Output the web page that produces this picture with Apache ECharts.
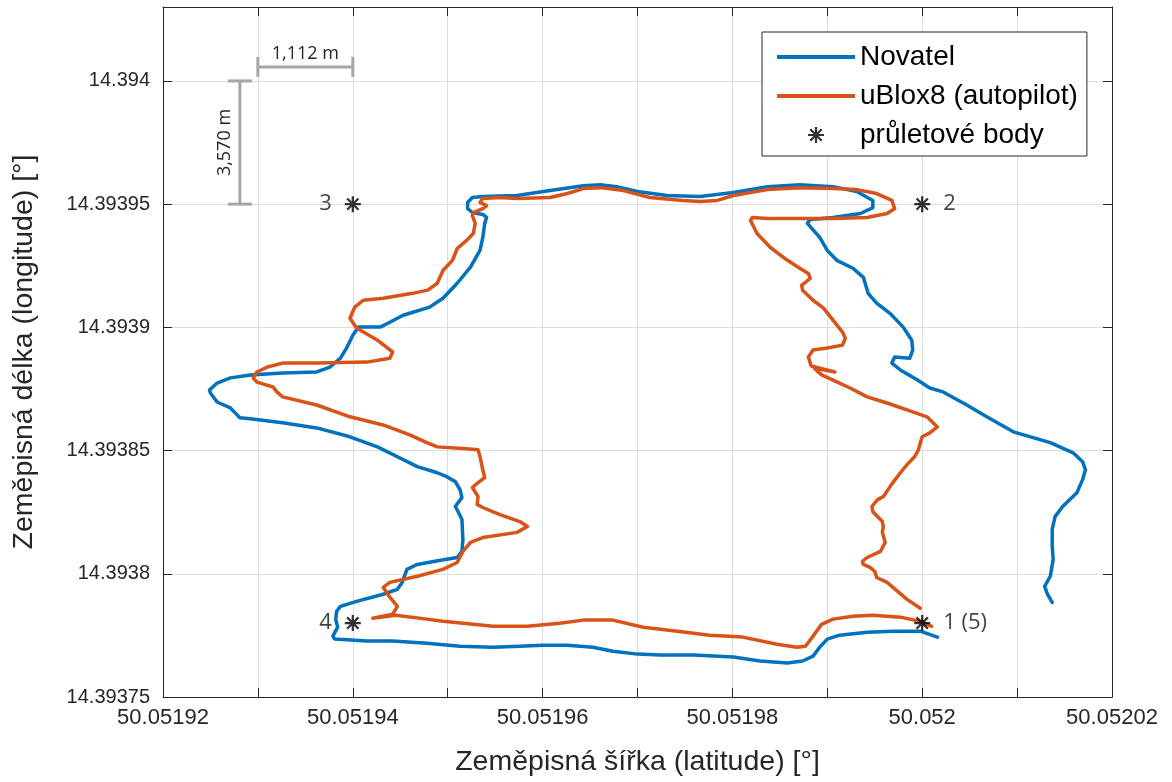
<!DOCTYPE html>
<html>
<head>
<meta charset="utf-8">
<title>Novatel vs uBlox8</title>
<script src="https://cdn.jsdelivr.net/npm/echarts@6.0.0/dist/echarts.min.js"></script>
<style>
	html, body { margin: 0; padding: 0; background: #fff; }
	#container { width: 1172px; height: 782px; }
</style>
</head>
<body>
<div id="container"></div>
<script>
// Novatel trajectory (latitude / longitude in degrees)
var novatelLat = [
	50.0520137, 50.0520132, 50.0520129, 50.0520135, 50.0520138, 50.0520137, 50.0520137, 50.0520140, 50.0520148, 50.0520163,
	50.0520169, 50.0520172, 50.0520169, 50.0520159, 50.0520135, 50.0520096, 50.0520068, 50.0520047, 50.0520022, 50.0520008,
	50.0519995, 50.0519977, 50.0519968, 50.0519971, 50.0519987, 50.0519990, 50.0519989, 50.0519980, 50.0519966, 50.0519952,
	50.0519943, 50.0519938, 50.0519927, 50.0519910, 50.0519900, 50.0519892, 50.0519879, 50.0519882, 50.0519906, 50.0519935,
	50.0519948, 50.0519948, 50.0519931, 50.0519906, 50.0519871, 50.0519837, 50.0519801, 50.0519766, 50.0519731, 50.0519700,
	50.0519678, 50.0519661, 50.0519643, 50.0519608, 50.0519573, 50.0519537, 50.0519526, 50.0519521, 50.0519521, 50.0519526,
	50.0519537, 50.0519541, 50.0519539, 50.0519537, 50.0519534, 50.0519524, 50.0519510, 50.0519495, 50.0519481, 50.0519453,
	50.0519439, 50.0519429, 50.0519406, 50.0519400, 50.0519394, 50.0519387, 50.0519376, 50.0519362, 50.0519326, 50.0519292,
	50.0519271, 50.0519257, 50.0519249, 50.0519250, 50.0519257, 50.0519271, 50.0519276, 50.0519281, 50.0519292, 50.0519326,
	50.0519362, 50.0519397, 50.0519426, 50.0519447, 50.0519468, 50.0519489, 50.0519499, 50.0519508, 50.0519513, 50.0519515,
	50.0519508, 50.0519511, 50.0519515, 50.0519516, 50.0519515, 50.0519510, 50.0519485, 50.0519468, 50.0519457, 50.0519452,
	50.0519447, 50.0519432, 50.0519404, 50.0519387, 50.0519383, 50.0519382, 50.0519384, 50.0519379, 50.0519381, 50.0519415,
	50.0519442, 50.0519478, 50.0519513, 50.0519548, 50.0519576, 50.0519600, 50.0519626, 50.0519653, 50.0519674, 50.0519700,
	50.0519724, 50.0519759, 50.0519801, 50.0519829, 50.0519858, 50.0519874, 50.0519885, 50.0519892, 50.0519900, 50.0519913,
	50.0519942, 50.0519969, 50.0519998, 50.0520016
];
var novatelLon = [
	14.3937884, 14.3937917, 14.3937949, 14.3937990, 14.3938058, 14.3938111, 14.3938180, 14.3938232, 14.3938273, 14.3938329,
	14.3938382, 14.3938422, 14.3938455, 14.3938491, 14.3938532, 14.3938576, 14.3938637, 14.3938685, 14.3938738, 14.3938754,
	14.3938786, 14.3938827, 14.3938855, 14.3938880, 14.3938875, 14.3938908, 14.3938948, 14.3939001, 14.3939057, 14.3939098,
	14.3939138, 14.3939203, 14.3939240, 14.3939272, 14.3939312, 14.3939365, 14.3939422, 14.3939438, 14.3939446, 14.3939462,
	14.3939486, 14.3939515, 14.3939551, 14.3939571, 14.3939579, 14.3939571, 14.3939547, 14.3939531, 14.3939535, 14.3939551,
	14.3939571, 14.3939579, 14.3939575, 14.3939555, 14.3939535, 14.3939531, 14.3939527, 14.3939507, 14.3939482, 14.3939466,
	14.3939458, 14.3939446, 14.3939422, 14.3939365, 14.3939312, 14.3939244, 14.3939179, 14.3939118, 14.3939082, 14.3939049,
	14.3939021, 14.3939001, 14.3939001, 14.3938968, 14.3938920, 14.3938875, 14.3938839, 14.3938819, 14.3938815, 14.3938807,
	14.3938795, 14.3938774, 14.3938746, 14.3938734, 14.3938697, 14.3938673, 14.3938653, 14.3938633, 14.3938629, 14.3938613,
	14.3938592, 14.3938556, 14.3938515, 14.3938475, 14.3938435, 14.3938410, 14.3938394, 14.3938374, 14.3938341, 14.3938309,
	14.3938273, 14.3938252, 14.3938220, 14.3938139, 14.3938091, 14.3938066, 14.3938050, 14.3938038, 14.3938018, 14.3937965,
	14.3937937, 14.3937917, 14.3937888, 14.3937868, 14.3937848, 14.3937816, 14.3937783, 14.3937747, 14.3937735, 14.3937727,
	14.3937727, 14.3937718, 14.3937706, 14.3937702, 14.3937706, 14.3937710, 14.3937710, 14.3937702, 14.3937686, 14.3937674,
	14.3937670, 14.3937670, 14.3937662, 14.3937646, 14.3937638, 14.3937646, 14.3937666, 14.3937702, 14.3937735, 14.3937751,
	14.3937763, 14.3937767, 14.3937767, 14.3937743
];

// uBlox8 (autopilot) trajectory
var ubloxLat = [
	50.0519998, 50.0519984, 50.0519963, 50.0519952, 50.0519950, 50.0519945, 50.0519938, 50.0519937, 50.0519942, 50.0519956,
	50.0519961, 50.0519958, 50.0519959, 50.0519958, 50.0519948, 50.0519947, 50.0519953, 50.0519959, 50.0519969, 50.0519977,
	50.0519984, 50.0519992, 50.0519996, 50.0519998, 50.0520000, 50.0520008, 50.0520016, 50.0520005, 50.0519984, 50.0519963,
	50.0519942, 50.0519924, 50.0519906, 50.0519894, 50.0519886, 50.0519908, 50.0519883, 50.0519880, 50.0519885, 50.0519900,
	50.0519916, 50.0519919, 50.0519916, 50.0519906, 50.0519896, 50.0519885, 50.0519874, 50.0519873, 50.0519877, 50.0519882,
	50.0519880, 50.0519871, 50.0519858, 50.0519840, 50.0519826, 50.0519819, 50.0519821, 50.0519837, 50.0519871, 50.0519906,
	50.0519942, 50.0519963, 50.0519971, 50.0519968, 50.0519952, 50.0519931, 50.0519906, 50.0519871, 50.0519837, 50.0519801,
	50.0519784, 50.0519766, 50.0519748, 50.0519713, 50.0519685, 50.0519661, 50.0519643, 50.0519626, 50.0519608, 50.0519573,
	50.0519555, 50.0519537, 50.0519534, 50.0519541, 50.0519537, 50.0519527, 50.0519526, 50.0519529, 50.0519527, 50.0519520,
	50.0519510, 50.0519505, 50.0519495, 50.0519489, 50.0519479, 50.0519463, 50.0519432, 50.0519411, 50.0519402, 50.0519397,
	50.0519404, 50.0519426, 50.0519442, 50.0519439, 50.0519415, 50.0519362, 50.0519326, 50.0519310, 50.0519299, 50.0519295,
	50.0519299, 50.0519316, 50.0519320, 50.0519326, 50.0519362, 50.0519397, 50.0519432, 50.0519460, 50.0519478, 50.0519489,
	50.0519520, 50.0519532, 50.0519534, 50.0519537, 50.0519539, 50.0519532, 50.0519526, 50.0519532, 50.0519531, 50.0519537,
	50.0519555, 50.0519576, 50.0519584, 50.0519573, 50.0519537, 50.0519524, 50.0519516, 50.0519510, 50.0519495, 50.0519468,
	50.0519439, 50.0519432, 50.0519439, 50.0519447, 50.0519442, 50.0519421, 50.0519445, 50.0519478, 50.0519495, 50.0519548,
	50.0519584, 50.0519618, 50.0519643, 50.0519674, 50.0519706, 50.0519742, 50.0519776, 50.0519811, 50.0519847, 50.0519868,
	50.0519877, 50.0519885, 50.0519894, 50.0519906, 50.0519927, 50.0519948, 50.0519977, 50.0519998, 50.0520010
];
var ubloxLon = [
	14.3937860, 14.3937896, 14.3937965, 14.3937985, 14.3938010, 14.3938026, 14.3938038, 14.3938050, 14.3938066, 14.3938091,
	14.3938127, 14.3938168, 14.3938192, 14.3938212, 14.3938252, 14.3938273, 14.3938301, 14.3938313, 14.3938370, 14.3938410,
	14.3938443, 14.3938475, 14.3938503, 14.3938532, 14.3938556, 14.3938572, 14.3938596, 14.3938637, 14.3938665, 14.3938693,
	14.3938718, 14.3938754, 14.3938786, 14.3938807, 14.3938835, 14.3938819, 14.3938843, 14.3938880, 14.3938908, 14.3938916,
	14.3938928, 14.3938956, 14.3938981, 14.3939029, 14.3939078, 14.3939110, 14.3939151, 14.3939171, 14.3939183, 14.3939199,
	14.3939219, 14.3939240, 14.3939272, 14.3939324, 14.3939381, 14.3939434, 14.3939446, 14.3939442, 14.3939442, 14.3939442,
	14.3939446, 14.3939462, 14.3939482, 14.3939515, 14.3939543, 14.3939559, 14.3939563, 14.3939567, 14.3939559, 14.3939535,
	14.3939515, 14.3939511, 14.3939515, 14.3939527, 14.3939555, 14.3939567, 14.3939563, 14.3939543, 14.3939527, 14.3939523,
	14.3939527, 14.3939523, 14.3939507, 14.3939494, 14.3939482, 14.3939466, 14.3939454, 14.3939422, 14.3939381, 14.3939353,
	14.3939320, 14.3939272, 14.3939231, 14.3939179, 14.3939151, 14.3939138, 14.3939118, 14.3939110, 14.3939082, 14.3939037,
	14.3938997, 14.3938948, 14.3938900, 14.3938875, 14.3938859, 14.3938855, 14.3938855, 14.3938839, 14.3938819, 14.3938795,
	14.3938778, 14.3938758, 14.3938738, 14.3938718, 14.3938685, 14.3938637, 14.3938604, 14.3938564, 14.3938532, 14.3938515,
	14.3938507, 14.3938503, 14.3938475, 14.3938422, 14.3938390, 14.3938370, 14.3938350, 14.3938313, 14.3938281, 14.3938269,
	14.3938240, 14.3938212, 14.3938192, 14.3938168, 14.3938147, 14.3938127, 14.3938091, 14.3938046, 14.3938018, 14.3937990,
	14.3937965, 14.3937945, 14.3937905, 14.3937868, 14.3937836, 14.3937820, 14.3937832, 14.3937816, 14.3937807, 14.3937787,
	14.3937787, 14.3937799, 14.3937812, 14.3937812, 14.3937783, 14.3937767, 14.3937751, 14.3937743, 14.3937714, 14.3937702,
	14.3937706, 14.3937747, 14.3937795, 14.3937816, 14.3937828, 14.3937832, 14.3937824, 14.3937807, 14.3937787
];

// waypoints (průletové body)
var waypointLat = [50.052, 50.052, 50.05194, 50.05194];
var waypointLon = [14.39378, 14.39395, 14.39395, 14.39378];
var waypointNames = ['1 (5)', '2', '3', '4'];
var waypointSide = ['right', 'right', 'left', 'left'];

// scale bars
var scaleFromLat = [50.05193, 50.0519281];
var scaleFromLon = [14.3940057, 14.39395];
var scaleToLat = [50.05194, 50.0519281];
var scaleToLon = [14.3940057, 14.394];
var scaleText = ['1,112 m', '3,570 m'];

// axes
var latMin = 50.05192, latMax = 50.05202, latStep = 0.00001;
var lonMin = 14.39375, lonMax = 14.39403, lonStep = 0.00005;

function pairs(a, b) {
	return a.map(function (v, i) { return [v, b[i]]; });
}

var asterisk = 'path://M-1.4,-10L1.4,-10L1.4,10L-1.4,10Z' +
	'M-10,-1.4L10,-1.4L10,1.4L-10,1.4Z' +
	'M-6.1,-8.1L8.1,6.1L6.1,8.1L-8.1,-6.1Z' +
	'M6.1,-8.1L8.1,-6.1L-6.1,8.1L-8.1,6.1Z';
var legendLine = 'path://M0,0L78,0L78,4L0,4Z';

var ink = '#262626';
var font = '"Liberation Sans", Arial, Helvetica, sans-serif';

function renderScaleBar(params, api) {
	var a = api.coord([api.value(0), api.value(1)]);
	var b = api.coord([api.value(2), api.value(3)]);
	var st = { stroke: '#a6a6a6', lineWidth: 3, fill: null };
	var kids = [{ type: 'line', shape: { x1: a[0], y1: a[1], x2: b[0], y2: b[1] }, style: st }];
	var textStyle = {
		text: scaleText[params.dataIndex],
		fill: ink,
		fontSize: 18,
		fontFamily: '"Open Sans", sans-serif',
		align: 'center',
		verticalAlign: 'bottom'
	};
	if (Math.abs(a[1] - b[1]) < 1) {
		// horizontal bar, vertical caps
		kids.push({ type: 'line', shape: { x1: a[0], y1: a[1] - 10, x2: a[0], y2: a[1] + 10 }, style: st });
		kids.push({ type: 'line', shape: { x1: b[0], y1: b[1] - 10, x2: b[0], y2: b[1] + 10 }, style: st });
		kids.push({ type: 'text', x: (a[0] + b[0]) / 2, y: a[1] - 4, style: textStyle });
	} else {
		// vertical bar, horizontal caps
		kids.push({ type: 'line', shape: { x1: a[0] - 12, y1: a[1], x2: a[0] + 12, y2: a[1] }, style: st });
		kids.push({ type: 'line', shape: { x1: b[0] - 12, y1: b[1], x2: b[0] + 12, y2: b[1] }, style: st });
		kids.push({ type: 'text', x: a[0] - 6, y: (a[1] + b[1]) / 2, rotation: Math.PI / 2, style: textStyle });
	}
	return { type: 'group', children: kids };
}

var myChart = echarts.init(document.getElementById('container'));

myChart.setOption({
	animation: false,
	backgroundColor: '#fff',
	textStyle: { fontFamily: font },
	grid: { left: 163, right: 60, top: 7, bottom: 84, containLabel: false },
	legend: {
		orient: 'vertical',
		left: 762,
		top: 32,
		data: [
			{ name: 'Novatel', icon: legendLine },
			{ name: 'uBlox8 (autopilot)', icon: legendLine },
			{ name: 'průletové body' }
		],
		itemWidth: 78,
		itemHeight: 16,
		itemGap: 11,
		padding: [11, 9, 7, 15],
		backgroundColor: '#fff',
		borderColor: ink,
		borderWidth: 1,
		borderRadius: 0,
		selectedMode: false,
		textStyle: { fontSize: 28, color: '#000', fontFamily: font }
	},
	xAxis: [{
		type: 'value',
		min: latMin,
		max: latMax,
		interval: latStep,
		name: 'Zeměpisná šířka (latitude) [°]',
		nameLocation: 'middle',
		nameGap: 51,
		nameTextStyle: { fontSize: 28.5, color: ink, fontFamily: font },
		axisLine: { onZero: false, lineStyle: { color: ink, width: 1 } },
		axisTick: { inside: true, length: 9, lineStyle: { color: ink } },
		axisLabel: {
			fontSize: 22,
			color: ink,
			margin: 10,
			formatter: function (v) {
				var k = Math.round((v - latMin) / latStep);
				return k % 2 ? '' : String(parseFloat(v.toFixed(5)));
			}
		},
		splitLine: { show: true, lineStyle: { color: '#dedede', width: 1 } }
	}, {
		type: 'value',
		position: 'top',
		min: latMin,
		max: latMax,
		interval: latStep,
		axisLine: { onZero: false, lineStyle: { color: ink, width: 1 } },
		axisTick: { inside: true, length: 9, lineStyle: { color: ink } },
		axisLabel: { show: false },
		splitLine: { show: false }
	}],
	yAxis: [{
		type: 'value',
		min: lonMin,
		max: lonMax,
		interval: lonStep,
		name: 'Zeměpisná délka (longitude) [°]',
		nameLocation: 'middle',
		nameGap: 124,
		nameTextStyle: { fontSize: 28.5, color: ink, fontFamily: font },
		axisLine: { show: true, onZero: false, lineStyle: { color: ink, width: 1 } },
		axisTick: { show: true, inside: true, length: 9, lineStyle: { color: ink } },
		axisLabel: {
			fontSize: 20,
			color: ink,
			margin: 13,
			showMaxLabel: false,
			formatter: function (v) {
				var k = (v - lonMin) / lonStep;
				return Math.abs(k - Math.round(k)) > 0.01 ? '' : String(parseFloat(v.toFixed(5)));
			}
		},
		splitLine: { show: true, lineStyle: { color: '#dedede', width: 1 } }
	}, {
		type: 'value',
		position: 'right',
		min: lonMin,
		max: lonMax,
		interval: lonStep,
		axisLine: { show: true, onZero: false, lineStyle: { color: ink, width: 1 } },
		axisTick: { show: true, inside: true, length: 9, lineStyle: { color: ink } },
		axisLabel: { show: false },
		splitLine: { show: false }
	}],
	series: [{
		name: 'Novatel',
		type: 'line',
		data: pairs(novatelLat, novatelLon),
		symbol: 'none',
		showSymbol: false,
		color: '#0072BD',
		lineStyle: { width: 3.5, color: '#0072BD', join: 'round', cap: 'round' },
		z: 3
	}, {
		name: 'uBlox8 (autopilot)',
		type: 'line',
		data: pairs(ubloxLat, ubloxLon),
		symbol: 'none',
		showSymbol: false,
		color: '#D95319',
		lineStyle: { width: 3.5, color: '#D95319', join: 'round', cap: 'round' },
		z: 4
	}, {
		name: 'průletové body',
		type: 'scatter',
		symbol: asterisk,
		symbolSize: 16,
		color: '#000',
		itemStyle: { color: '#000' },
		z: 6,
		data: waypointLat.map(function (lat, i) {
			return {
				value: [lat, waypointLon[i]],
				label: {
					show: true,
					formatter: waypointNames[i],
					position: waypointSide[i],
					distance: 13,
					fontSize: 22,
					fontFamily: '"Open Sans", sans-serif',
					color: '#111'
				}
			};
		})
	}, {
		name: 'scale',
		type: 'custom',
		renderItem: renderScaleBar,
		encode: { x: [0, 2], y: [1, 3] },
		silent: true,
		z: 5,
		data: scaleFromLat.map(function (v, i) {
			return [v, scaleFromLon[i], scaleToLat[i], scaleToLon[i]];
		})
	}]
});
</script>
</body>
</html>
